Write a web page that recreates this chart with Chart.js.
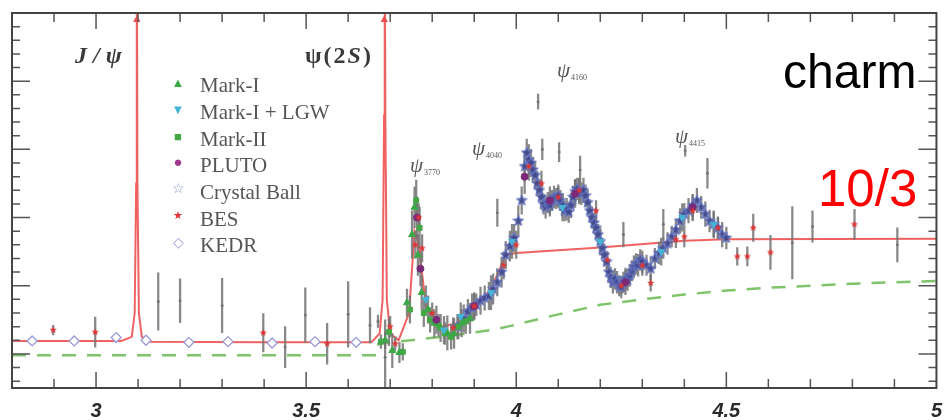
<!DOCTYPE html>
<html>
<head>
<meta charset="utf-8">
<script src="https://cdn.jsdelivr.net/npm/chart.js@4.4.1/dist/chart.umd.min.js"></script>
<style>
  body { margin: 0; background: #fff; }
  #wrap { position: relative; width: 945px; height: 420px; }
  #c { position: absolute; left: 0; top: 0; }
  .lab { position: absolute; white-space: nowrap; line-height: 1; }
  .serif { font-family: "Liberation Serif", "DejaVu Serif", serif; color: #3a3a3a; }
  .res { font: italic 21px "Liberation Serif", serif; color: #555; }
  .res sub { font-size: 8px; font-style: normal; vertical-align: -3px; margin-left: 1px; }
  .leg { font: 21px "Liberation Serif", serif; color: #555; }
  .sym { position: absolute; width: 20px; text-align: center; line-height: 1; }
</style>
</head>
<body>
<div id="wrap">
  <canvas id="c" width="945" height="420"></canvas>

  <div class="lab serif" style="left:75px;top:43px;font-size:24px;font-weight:bold;font-style:italic;letter-spacing:6px">J/ψ</div>
  <div class="lab serif" style="left:305px;top:43px;font-size:24px;font-weight:bold;letter-spacing:2px">ψ(2<i>S</i>)</div>
  <div class="lab res" style="left:410px;top:153px">ψ<sub>3770</sub></div>
  <div class="lab res" style="left:472px;top:136px">ψ<sub>4040</sub></div>
  <div class="lab res" style="left:557px;top:58px">ψ<sub>4160</sub></div>
  <div class="lab res" style="left:675px;top:124px">ψ<sub>4415</sub></div>

  <div class="sym" style="left:168px;top:76px;font-size:13px;color:#3aa846">▲</div>
  <div class="lab leg" style="left:200px;top:73px">Mark-I</div>
  <div class="sym" style="left:168px;top:103px;font-size:13px;color:#46b4d6">▼</div>
  <div class="lab leg" style="left:200px;top:100px">Mark-I + LGW</div>
  <div class="sym" style="left:168px;top:130px;font-size:13px;color:#44a844">■</div>
  <div class="lab leg" style="left:200px;top:127px">Mark-II</div>
  <div class="sym" style="left:168px;top:155px;font-size:15px;color:#a03a90">●</div>
  <div class="lab leg" style="left:200px;top:153px">PLUTO</div>
  <div class="sym" style="left:168px;top:182px;font-size:14px;color:#8a90c8">☆</div>
  <div class="lab leg" style="left:200px;top:180px">Crystal Ball</div>
  <div class="sym" style="left:168px;top:210px;font-size:11px;color:#e03535">★</div>
  <div class="lab leg" style="left:200px;top:207px">BES</div>
  <div class="sym" style="left:168px;top:236px;font-size:14px;color:#9a9ad8">◇</div>
  <div class="lab leg" style="left:200px;top:233px">KEDR</div>

  <div class="lab" style="left:783px;top:44px;font:48px 'Liberation Sans', Arial, sans-serif;color:#000">charm</div>
  <div class="lab" style="left:818px;top:159px;font:51px 'Liberation Sans', Arial, sans-serif;color:#ff0000">10/3</div>
</div>

<script>
// axis setup
const xTickValues = [3, 3.5, 4, 4.5, 5];
const xTickLabels = ["3", "3.5", "4", "4.5", "5"];

// theory curves (sqrt(s) in GeV, R)
const redE = [2.8, 3.06, 3.085, 3.092, 3.0955, 3.097, 3.0985, 3.102, 3.109, 3.13, 3.4, 3.655,
  3.675, 3.682, 3.6855, 3.687, 3.6885, 3.692, 3.7, 3.72, 3.745, 3.758, 3.768, 3.785, 3.82, 3.86,
  3.9, 3.94, 3.975, 4.0, 4.2, 4.4, 4.5, 5.0];
const redR = [2.19, 2.19, 2.25, 2.6, 4.5, 8.5, 4.5, 2.6, 2.25, 2.18, 2.17, 2.17,
  2.3, 2.8, 5.5, 8.5, 5.5, 2.8, 2.3, 2.2, 2.6, 3.8, 3.6, 2.7, 2.4, 2.45,
  2.7, 2.95, 3.45, 3.48, 3.56, 3.66, 3.68, 3.69];
const arrowE = [3.097, 3.686];
const arrowR = [6.9, 6.9];

const greenE = [2.8, 3.67, 3.672, 3.75, 3.85, 3.95, 4.0, 4.1, 4.2, 4.3, 4.4, 4.5, 4.6, 4.7, 4.8, 4.9, 5.0];
const greenR = [1.98, 1.98, 2.15, 2.2, 2.27, 2.36, 2.43, 2.58, 2.72, 2.8, 2.87, 2.93, 2.97, 3.0, 3.03, 3.05, 3.07];

// measurements
const markIE   = [3.688, 3.705, 3.722, 3.740, 3.752, 3.758, 3.766, 3.775, 3.790, 3.805, 3.820, 3.836, 3.852, 3.870, 3.890];
const markIR   = [2.20, 2.05, 2.02, 2.75, 3.75, 4.15, 3.45, 2.90, 2.65, 2.45, 2.38, 2.31, 2.30, 2.45, 2.52];
const markIErr = [0.12, 0.25, 0.15, 0.20, 0.35, 0.30, 0.30, 0.25, 0.20, 0.20, 0.20, 0.25, 0.22, 0.20, 0.22];

const lgwE   = [3.785, 3.828, 3.868, 3.940, 3.990, 4.110, 4.200, 4.345, 4.395, 4.470];
const lgwR   = [2.80, 2.35, 2.55, 2.90, 3.65, 4.15, 3.65, 3.50, 4.00, 3.90];
const lgwErr = [0.20, 0.20, 0.20, 0.25, 0.25, 0.20, 0.20, 0.20, 0.20, 0.20];

const markIIE   = [3.678, 3.697, 3.730, 3.747, 3.762, 3.770, 3.780, 3.795, 3.815, 3.830, 3.845, 3.862, 3.880];
const markIIR   = [2.18, 2.32, 2.03, 2.65, 4.25, 3.85, 2.60, 2.50, 2.42, 2.30, 2.25, 2.40, 2.48];
const markIIErr = [0.10, 0.20, 0.12, 0.20, 0.30, 0.30, 0.20, 0.18, 0.16, 0.16, 0.18, 0.18, 0.18];

const plutoE   = [3.764, 3.772, 3.810, 3.900, 4.020, 4.080, 4.140, 4.260, 4.420];
const plutoR   = [4.00, 3.25, 2.50, 2.70, 4.60, 4.25, 4.35, 3.05, 4.15];
const plutoErr = [0.30, 0.25, 0.20, 0.20, 0.25, 0.20, 0.20, 0.18, 0.18];

const cbE = [3.860, 3.875, 3.885, 3.895, 3.905, 3.915, 3.925, 3.935, 3.945, 3.955, 3.965, 3.975, 3.985, 3.995,
  4.005, 4.013, 4.020, 4.025, 4.030, 4.035, 4.040, 4.045, 4.050, 4.055, 4.060, 4.065, 4.070, 4.075, 4.080,
  4.085, 4.090, 4.095, 4.100, 4.105, 4.110, 4.115, 4.120, 4.125, 4.130, 4.135, 4.140, 4.145, 4.150, 4.155,
  4.160, 4.165, 4.170, 4.175, 4.180, 4.185, 4.190, 4.195, 4.200, 4.205, 4.210, 4.215, 4.220, 4.225, 4.230,
  4.235, 4.240, 4.245, 4.250, 4.255, 4.260, 4.265, 4.270, 4.275, 4.280, 4.285, 4.290, 4.295, 4.300, 4.310,
  4.320, 4.330, 4.340, 4.350, 4.360, 4.370, 4.380, 4.390, 4.400, 4.410, 4.420, 4.430, 4.440, 4.450, 4.460,
  4.470, 4.480, 4.490, 4.500];
const cbR = [2.40, 2.52, 2.62, 2.68, 2.72, 2.78, 2.82, 2.85, 2.95, 3.05, 3.20, 3.45, 3.58, 3.70,
  3.95, 4.25, 4.75, 4.95, 4.85, 4.80, 4.70, 4.62, 4.50, 4.40, 4.30, 4.20, 4.15, 4.22, 4.18,
  4.25, 4.30, 4.28, 4.32, 4.25, 4.18, 4.10, 4.12, 4.08, 4.18, 4.30, 4.38, 4.42, 4.38, 4.35,
  4.40, 4.32, 4.22, 4.10, 4.00, 3.92, 3.85, 3.75, 3.65, 3.55, 3.45, 3.35, 3.20, 3.12, 3.05,
  3.10, 3.05, 3.00, 2.98, 3.05, 3.10, 3.08, 3.15, 3.22, 3.28, 3.32, 3.30, 3.38, 3.35, 3.30,
  3.25, 3.40, 3.48, 3.55, 3.62, 3.72, 3.82, 3.95, 4.05, 4.10, 4.18, 4.25, 4.15, 4.05, 3.95,
  3.90, 3.85, 3.75, 3.70];
const cbErr = [0.18, 0.20, 0.18, 0.20, 0.16, 0.20, 0.18, 0.20, 0.22, 0.20, 0.22, 0.20, 0.22, 0.20,
  0.22, 0.20, 0.22, 0.20, 0.22, 0.20, 0.18, 0.20, 0.18, 0.16, 0.18, 0.15, 0.16, 0.15, 0.16,
  0.15, 0.16, 0.15, 0.16, 0.15, 0.16, 0.15, 0.16, 0.15, 0.18, 0.16, 0.18, 0.16, 0.18, 0.16,
  0.18, 0.16, 0.18, 0.16, 0.16, 0.15, 0.16, 0.15, 0.16, 0.15, 0.16, 0.15, 0.16, 0.15, 0.16,
  0.15, 0.16, 0.15, 0.16, 0.15, 0.16, 0.15, 0.16, 0.15, 0.16, 0.15, 0.16, 0.15, 0.16, 0.15,
  0.16, 0.15, 0.16, 0.15, 0.16, 0.15, 0.16, 0.18, 0.16, 0.18, 0.16, 0.18, 0.16, 0.18, 0.16,
  0.18, 0.16, 0.18, 0.16];

const besE   = [2.898, 2.998, 3.398, 3.550, 3.700, 3.712, 3.760, 3.768, 3.776, 3.800, 3.850, 3.900, 3.970,
  4.000, 4.030, 4.060, 4.100, 4.150, 4.190, 4.217, 4.250, 4.300, 4.320, 4.380, 4.400, 4.420, 4.480,
  4.526, 4.550, 4.564, 4.605, 4.805];
const besR   = [2.35, 2.32, 2.31, 2.15, 2.40, 2.15, 3.60, 4.00, 3.55, 2.60, 2.38, 2.70, 3.30,
  3.60, 4.75, 4.50, 4.30, 4.40, 4.10, 3.38, 3.00, 3.30, 3.04, 3.68, 3.72, 4.10, 3.85,
  3.43, 3.43, 3.85, 3.49, 3.90];
const besErr = [0.07, 0.22, 0.28, 0.30, 0.15, 0.10, 0.20, 0.20, 0.20, 0.15, 0.15, 0.18, 0.20,
  0.20, 0.20, 0.18, 0.15, 0.18, 0.15, 0.12, 0.12, 0.15, 0.12, 0.12, 0.15, 0.15, 0.15,
  0.13, 0.14, 0.20, 0.25, 0.22];

const kedrE   = [2.848, 2.948, 3.048, 3.119, 3.221, 3.314, 3.419, 3.521, 3.619];
const kedrR   = [2.19, 2.19, 2.24, 2.20, 2.17, 2.18, 2.16, 2.18, 2.17];
const kedrErr = [0.04, 0.04, 0.04, 0.04, 0.05, 0.05, 0.05, 0.05, 0.05];

// points whose markers are washed out, only the error bar shows
const otherE   = [3.148, 3.200, 3.300, 3.450, 3.498, 3.600, 3.652, 3.671, 3.688, 3.955, 4.052, 4.062,
  4.102, 4.152, 4.255, 4.350, 4.402, 4.455, 4.657, 4.705, 4.907];
const otherR   = [2.77, 2.78, 2.71, 2.10, 2.57, 2.58, 2.42, 2.48, 1.95, 4.07, 5.70, 5.00,
  4.96, 4.70, 3.75, 3.90, 4.98, 4.65, 3.63, 3.87, 3.60];
const otherErr = [0.42, 0.32, 0.40, 0.30, 0.40, 0.48, 0.26, 0.09, 0.55, 0.20, 0.11, 0.15,
  0.14, 0.20, 0.18, 0.22, 0.08, 0.22, 0.53, 0.23, 0.25];

const toXY = (xs, ys) => xs.map((v, i) => ({ x: v, y: ys[i] }));

function starImage(size, fill, stroke, lw) {
  const c = document.createElement("canvas");
  c.width = c.height = size;
  const g = c.getContext("2d");
  const m = size / 2;
  g.beginPath();
  for (let k = 0; k < 10; k++) {
    const r = k % 2 ? size * 0.21 : size * 0.47;
    const a = -Math.PI / 2 + k * Math.PI / 5;
    g.lineTo(m + r * Math.cos(a), m + r * Math.sin(a));
  }
  g.closePath();
  if (fill) { g.fillStyle = fill; g.fill(); }
  if (stroke) { g.strokeStyle = stroke; g.lineWidth = lw; g.stroke(); }
  return c;
}

const groups = [
  [markIE, markIR, markIErr], [lgwE, lgwR, lgwErr], [markIIE, markIIR, markIIErr],
  [plutoE, plutoR, plutoErr], [cbE, cbR, cbErr], [besE, besR, besErr],
  [kedrE, kedrR, kedrErr], [otherE, otherR, otherErr]
];
const errBars = groups.flatMap(([e, r, s]) => e.map((v, i) => ({ x: v, y: [r[i] - s[i], r[i] + s[i]] })));

// inward ticks + frame
const frameTicks = {
  id: "frameTicks",
  afterDatasetsDraw(chart) {
    const { ctx, chartArea: a, scales: { x, y } } = chart;
    ctx.save();
    ctx.strokeStyle = "#555";
    ctx.lineWidth = 1.5;
    ctx.beginPath();
    for (let i = 29; i <= 49; i++) {
      const px = x.getPixelForValue(i / 10);
      const len = i % 5 === 0 ? 16 : 9;
      ctx.moveTo(px, a.bottom); ctx.lineTo(px, a.bottom - len);
      ctx.moveTo(px, a.top); ctx.lineTo(px, a.top + len);
    }
    for (let k = 8; k <= 34; k++) {
      const py = y.getPixelForValue(k / 5);
      const len = k % 5 === 0 ? 18 : 8;
      ctx.moveTo(a.left, py); ctx.lineTo(a.left + len, py);
      ctx.moveTo(a.right, py); ctx.lineTo(a.right - len, py);
    }
    ctx.stroke();
    ctx.strokeStyle = "#444";
    ctx.lineWidth = 2;
    ctx.strokeRect(a.left, a.top, a.right - a.left, a.bottom - a.top);
    ctx.restore();
  }
};

const ctx = document.getElementById("c").getContext("2d");
new Chart(ctx, {
  type: "scatter",
  data: {
    datasets: [
      {
        type: "line", data: toXY(greenE, greenR), borderColor: "#7fc46c", borderWidth: 2.5,
        borderDash: [14, 11], pointRadius: 0, tension: 0, order: 9
      },
      {
        type: "line", data: toXY(redE, redR), borderColor: "rgba(238,80,80,0.9)", borderWidth: 2,
        pointRadius: 0, tension: 0, order: 8
      },
      {
        data: toXY(arrowE, arrowR), pointStyle: "triangle", pointRadius: 3.5,
        backgroundColor: "#ee5050", borderColor: "#ee5050", order: 8
      },
      {
        type: "bar", data: errBars, backgroundColor: "rgba(115,115,115,0.85)", barThickness: 1.6,
        grouped: false, order: 7
      },
      {
        data: toXY(otherE, otherR), pointRadius: 1.5, backgroundColor: "#777", borderWidth: 0, order: 6
      },
      {
        data: toXY(kedrE, kedrR), pointStyle: "rectRot", pointRadius: 5, backgroundColor: "#fff",
        borderColor: "#9a9ad8", borderWidth: 1.3, order: 5
      },
      {
        data: toXY(cbE, cbR), pointStyle: starImage(12, "rgba(58,66,140,0.85)", "#6a7ac8", 1), order: 4
      },
      {
        data: toXY(markIE, markIR), pointStyle: "triangle", pointRadius: 4,
        backgroundColor: "#3aa846", borderColor: "#3aa846", order: 3
      },
      {
        data: toXY(markIIE, markIIR), pointStyle: "rect", pointRadius: 3.5,
        backgroundColor: "#44a844", borderColor: "#44a844", order: 3
      },
      {
        data: toXY(lgwE, lgwR), pointStyle: "triangle", rotation: 180, pointRadius: 4,
        backgroundColor: "#46b4d6", borderColor: "#46b4d6", order: 2
      },
      {
        data: toXY(plutoE, plutoR), pointStyle: "circle", pointRadius: 3.5,
        backgroundColor: "#7a2a78", borderColor: "#7a2a78", order: 2
      },
      {
        data: toXY(besE, besR), pointStyle: starImage(8, "#e03535", null, 0), order: 1
      }
    ]
  },
  options: {
    responsive: false,
    animation: false,
    events: [],
    layout: { padding: { left: 12, top: 13, right: 7, bottom: 0 } },
    plugins: { legend: { display: false }, tooltip: { enabled: false } },
    scales: {
      x: {
        type: "linear", min: 2.8, max: 5.0, offset: false,
        grid: { display: false, offset: false }, border: { display: false },
        afterBuildTicks: s => { s.ticks = xTickValues.map(v => ({ value: v })); },
        afterFit: s => { s.height = 32; },
        ticks: {
          padding: 3, color: "#2a2a2a", autoSkip: false, maxRotation: 0,
          font: { family: "Liberation Sans", size: 20, weight: "bold", style: "italic" },
          callback: v => xTickLabels[xTickValues.indexOf(v)] ?? ""
        }
      },
      y: {
        type: "linear", min: 1.5, max: 7.0,
        grid: { display: false }, border: { display: false },
        ticks: { display: false },
        afterFit: s => { s.width = 0; }
      }
    }
  },
  plugins: [frameTicks]
});
</script>
</body>
</html>
